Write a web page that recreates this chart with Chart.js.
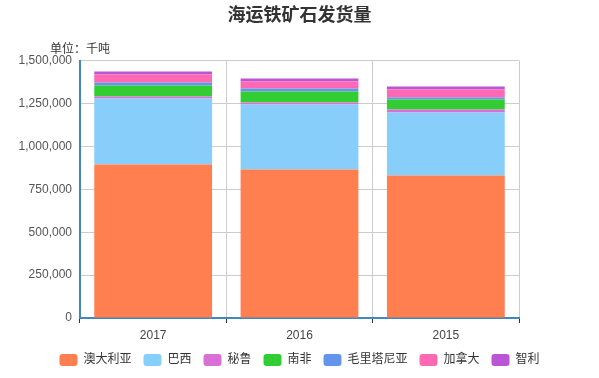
<!DOCTYPE html>
<html>
<head>
<meta charset="utf-8">
<script src="https://cdn.jsdelivr.net/npm/chart.js@4.4.0/dist/chart.umd.min.js"></script>
<style>
  html, body { margin: 0; padding: 0; background: #fff; }
  #box { width: 599px; height: 378px; }
</style>
</head>
<body>
<div id="box"><canvas id="myChart"></canvas></div>
<script>
// 年份（类目）
const years = ["2017", "2016", "2015"];
// 各国发货量，单位：千吨
const aodaliya = [895000, 866000, 831000];
const baxi = [384000, 378000, 367000];
const bilu = [12000, 12000, 17000];
const nanfei = [64000, 64000, 58000];
const maolitaniya = [17000, 17000, 12000];
const jianada = [47000, 41000, 47000];
const zhili = [17000, 17000, 17000];
const yTicks = [0, 250000, 500000, 750000, 1000000, 1250000, 1500000];

const guojia = ["澳大利亚", "巴西", "秘鲁", "南非", "毛里塔尼亚", "加拿大", "智利"];
const shuju = [aodaliya, baxi, bilu, nanfei, maolitaniya, jianada, zhili];
const yanse = ["#ff7f50", "#87cefa", "#da70d6", "#32cd32", "#6495ed", "#ff69b4", "#ba55d3"];

Chart.defaults.font.family = "'Liberation Sans', 'Noto Sans CJK SC', sans-serif";
Chart.defaults.font.size = 12;
Chart.defaults.color = "#555";

// 左上角的单位文字
const danwei = {
    id: "danwei",
    afterDraw(chart) {
        const c = chart.ctx;
        c.save();
        c.font = "12px 'Noto Sans CJK SC', sans-serif";
        c.fillStyle = "#333";
        c.textBaseline = "middle";
        c.textAlign = "left";
        c.fillText("单位：千吨", 50, 48);
        c.restore();
    }
};

let datasets = [];
for (let i = 0; i < guojia.length; i++) {
    datasets.push({
        label: guojia[i],
        data: shuju[i],
        backgroundColor: yanse[i],
        borderWidth: 0,
        barPercentage: 0.805,
        categoryPercentage: 1
    });
}

const ctx = document.getElementById('myChart').getContext('2d');
const myChart = new Chart(ctx, {
    type: 'bar',
    data: { labels: years, datasets: datasets },
    plugins: [danwei],
    options: {
        responsive: true,
        maintainAspectRatio: false,
        animation: false,
        layout: { padding: { left: 0, right: 0, top: 0, bottom: 2 } },
        plugins: {
            title: {
                display: true,
                text: "海运铁矿石发货量",
                color: "#333",
                font: { size: 18, weight: 'bold', family: "'Noto Sans CJK SC', sans-serif" },
                padding: { top: 3, bottom: 36 }
            },
            legend: {
                position: 'bottom',
                labels: {
                    boxWidth: 18,
                    boxHeight: 12,
                    padding: 12,
                    color: "#333",
                    useBorderRadius: true,
                    borderRadius: 3,
                    font: { size: 12 }
                }
            },
            tooltip: { enabled: false }
        },
        scales: {
            x: {
                stacked: true,
                grid: { color: "#ccc", tickColor: "#333", tickLength: 5, offset: true },
                border: { color: "#4488bb", width: 2 },
                ticks: { color: "#444", padding: 5 },
                afterFit(scale) { scale.height = 24; }
            },
            y: {
                stacked: true,
                min: 0,
                max: 1500000,
                afterBuildTicks(scale) { scale.ticks = yTicks.map(v => ({ value: v })); },
                grid: { color: "#ccc", drawTicks: false },
                border: { color: "#4488bb", width: 2 },
                ticks: { color: "#555", padding: 8 },
                afterFit(scale) { scale.width = 80; }
            },
            y2: {
                position: 'right',
                display: true,
                grid: { display: false },
                border: { display: false },
                ticks: { display: false },
                afterFit(scale) { scale.width = 80; }
            }
        }
    }
});
</script>
</body>
</html>
